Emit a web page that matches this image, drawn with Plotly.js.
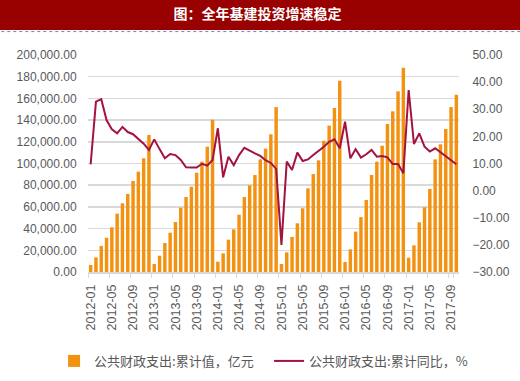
<!DOCTYPE html>
<html>
<head>
<meta charset="utf-8">
<script src="https://cdn.plot.ly/plotly-3.0.1.min.js"></script>
<style>html,body{margin:0;padding:0;background:#fff;}#chart{width:520px;height:381px;}</style>
</head>
<body>
<div id="chart"></div>
<script>
var months = [
 "2012-01","2012-02","2012-03","2012-04","2012-05","2012-06","2012-07","2012-08","2012-09","2012-10","2012-11","2012-12",
 "2013-01","2013-02","2013-03","2013-04","2013-05","2013-06","2013-07","2013-08","2013-09","2013-10","2013-11","2013-12",
 "2014-01","2014-02","2014-03","2014-04","2014-05","2014-06","2014-07","2014-08","2014-09","2014-10","2014-11","2014-12",
 "2015-01","2015-02","2015-03","2015-04","2015-05","2015-06","2015-07","2015-08","2015-09","2015-10","2015-11","2015-12",
 "2016-01","2016-02","2016-03","2016-04","2016-05","2016-06","2016-07","2016-08","2016-09","2016-10","2016-11","2016-12",
 "2017-01","2017-02","2017-03","2017-04","2017-05","2017-06","2017-07","2017-08","2017-09","2017-10"
];
var tickMonths = ["2012-01","2012-05","2012-09","2013-01","2013-05","2013-09","2014-01","2014-05","2014-09",
 "2015-01","2015-05","2015-09","2016-01","2016-05","2016-09","2017-01","2017-05","2017-09"];

// 公共财政支出:累计值（亿元）
var cumSpend = [
 6450, 13500, 24000, 31600, 41200, 53800, 63300, 71900, 83900, 92500, 104800, 126300,
 7400, 15000, 26700, 36200, 46100, 59300, 69100, 78600, 91500, 101700, 115500, 140400,
 9500, 17200, 29800, 39300, 52800, 69100, 79900, 89400, 103800, 113700, 126900, 152000,
 7400, 18100, 32300, 44900, 58700, 77100, 90300, 102900, 121000, 134900, 151100, 176300,
 9200, 20900, 37200, 50600, 66400, 89400, 101700, 116400, 136400, 148100, 166500, 188300,
 13200, 24600, 45800, 59600, 76500, 103800, 117700, 131800, 152000, 163400
];
// 公共财政支出:累计同比（%）
var cumYoY = [
 9.7, 32.8, 33.7, 26.0, 22.6, 21.1, 23.5, 21.6, 20.8, 19.2, 17.3, 15.0,
 18.9, 15.3, 11.9, 13.5, 13.1, 11.3, 8.6, 8.5, 8.5, 9.9, 9.2, 11.3,
 23.0, 4.9, 12.5, 9.4, 13.1, 15.8, 14.6, 13.7, 12.8, 11.2, 10.2, 8.0,
 -20.0, 10.7, 7.6, 14.0, 10.9, 11.5, 13.1, 14.6, 16.2, 18.0, 18.9, 15.6,
 25.4, 11.9, 15.3, 12.2, 13.4, 15.0, 12.5, 12.8, 12.3, 9.8, 9.8, 6.4,
 37.1, 17.2, 21.1, 16.2, 14.4, 15.6, 14.1, 12.8, 11.3, 9.7
];

var barName = "公共财政支出:累计值，亿元";
var lineName = "公共财政支出:累计同比，%";
var titleText = "图：全年基建投资增速稳定";

var numFont = "Liberation Sans, Arial, sans-serif";
var cjkFont = "Noto Sans CJK SC, sans-serif";

var traces = [
 {type:"bar", x:months, y:cumSpend, name:barName, marker:{color:"#F39111"}, yaxis:"y"},
 {type:"scatter", mode:"lines", x:months, y:cumYoY, name:lineName, yaxis:"y2",
  line:{color:"#A3133F", width:2}}
];

var layout = {
 width:520, height:381,
 margin:{l:88, r:61, t:55, b:109, autoexpand:false},
 paper_bgcolor:"#fff", plot_bgcolor:"#fff",
 bargap:0.35,
 showlegend:true,
 title:{text:titleText, x:0.495, xref:"container", xanchor:"center", y:0.962, yref:"container", yanchor:"middle",
  font:{family:cjkFont, size:14, color:"#ffffff", weight:"bold"}},
 xaxis:{type:"category", categoryorder:"array", categoryarray:months,
  tickvals:tickMonths, ticktext:tickMonths, tickangle:-90, tickson:"boundaries",
  ticks:"outside", ticklen:4, tickcolor:"#D9D9D9", showline:true, linecolor:"#D9D9D9", linewidth:1.5,
  showgrid:false, tickfont:{family:numFont, size:12.5, color:"#595959"}, ticklabelstandoff:6,
  range:[-0.5, months.length-0.5], fixedrange:true},
 yaxis:{range:[0,200000], dtick:20000, tickformat:",.2f", showgrid:true, gridcolor:"#D9D9D9", gridwidth:1.5,
  zeroline:false, showline:false, ticks:"outside", ticklen:8, tickcolor:"rgba(0,0,0,0)",
  tickfont:{family:numFont, size:12, color:"#595959"}},
 yaxis2:{overlaying:"y", side:"right", range:[-30,50], dtick:10, tickformat:".2f", showgrid:false, zeroline:false,
  showline:false, ticks:"outside", ticklen:10, tickcolor:"rgba(0,0,0,0)",
  tickfont:{family:numFont, size:12, color:"#595959"}},
 legend:{orientation:"h", xref:"paper", x:-0.0915, xanchor:"left", y:-0.41, yanchor:"middle",
  font:{family:cjkFont, size:13, color:"#595959"}, bgcolor:"rgba(0,0,0,0)", itemwidth:30, tracegroupgap:0,
  entrywidth:170, entrywidthmode:"pixels"},
 shapes:[
  {type:"rect", xref:"paper", yref:"paper", x0:-0.25, x1:1.18, y0:1.1152, y1:1.26, fillcolor:"#990000", line:{width:0}, layer:"above"},
  {type:"line", xref:"paper", yref:"paper", x0:-0.25, x1:1.18, y0:1.108, y1:1.108, line:{color:"#8A78B0", width:1, dash:"dot"}, layer:"above"}
 ]
};

Plotly.newPlot("chart", traces, layout, {displayModeBar:false, staticPlot:true});
</script>
</body>
</html>
